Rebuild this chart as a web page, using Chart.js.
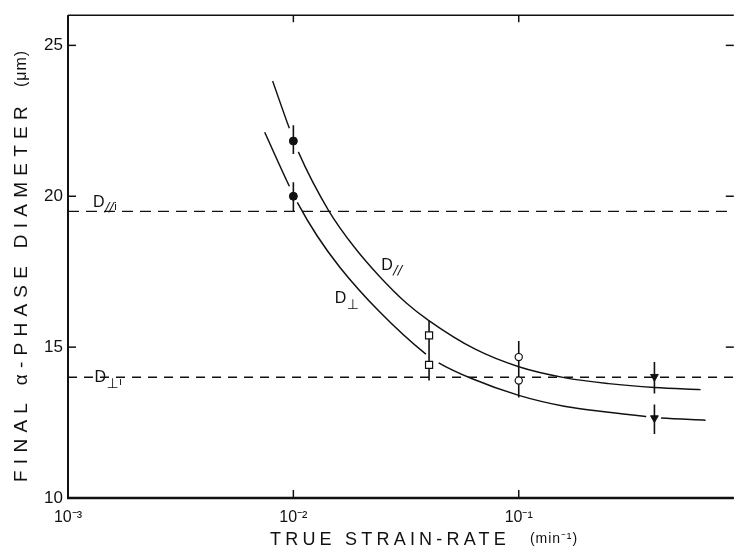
<!DOCTYPE html>
<html><head><meta charset="utf-8">
<script src="https://cdn.jsdelivr.net/npm/chart.js@4.4.1/dist/chart.umd.min.js"></script>
<style>html,body{margin:0;padding:0;background:#fff;overflow:hidden}canvas{display:block}</style>
</head><body>
<canvas id="c" width="740" height="549"></canvas>
<script>
// ---- data ----
const xTicks = [0.001, 0.01, 0.1];
const xTickLabels = ['10\u207B\u00B3', '10\u207B\u00B2', '10\u207B\u00B9'];
const yTicks = [10, 15, 20, 25];
const xRange = [0.001, 0.9];
const yRange = [10, 26];

// D-parallel curve
const parX = [0.00809, 0.00960, 0.01052, 0.01438, 0.01870, 0.02407, 0.03162, 0.03991, 0.06412, 0.1, 0.1591, 0.2506, 0.3991, 0.6412];
const parY = [23.82, 22.25, 21.47, 19.51, 18.30, 17.35, 16.47, 15.88, 14.93, 14.35, 13.99, 13.79, 13.66, 13.59];
const parGaps = [[0.00960, 0.01052]];
// D-perpendicular curve
const perX = [0.007461, 0.00960, 0.01041, 0.01274, 0.01607, 0.02407, 0.03871, 0.04413, 0.0622, 0.1, 0.1591, 0.2506, 0.368, 0.4281, 0.6745];
const perY = [22.12, 20.33, 19.80, 18.69, 17.65, 16.18, 14.77, 14.48, 13.95, 13.40, 13.04, 12.84, 12.70, 12.65, 12.58];
const perGaps = [[0.00960, 0.01041], [0.03871, 0.04413], [0.368, 0.4281]];

// initial diameters (dashed)
const initPar = 19.5;
const initPer = 14.0;

// measured points
const dotX = [0.01, 0.01],   dotY = [21.83, 20.0];
const sqX  = [0.04, 0.04],   sqY  = [15.39, 14.41];
const ocX  = [0.1, 0.1],     ocY  = [14.67, 13.89];
const triX = [0.4, 0.4],     triY = [14.02, 12.65];

// error bars
const errX    = [0.01, 0.01, 0.04, 0.1, 0.4, 0.4];
const errLow  = [21.40, 19.50, 13.89, 13.33, 13.46, 12.12];
const errHigh = [22.35, 20.46, 15.88, 15.20, 14.51, 13.10];

// text
const xTitle = 'TRUE STRAIN-RATE';
const xUnit = '(min\u207B\u00B9)';
const yTitle = 'FINAL \u03B1-PHASE DIAMETER';
const yUnit = '(\u03BCm)';
const curveLabelMain = ['D', 'D', 'D', 'D'];
const curveLabelSub  = ['//', '\u22A5', '//', '\u22A5'];
const curveLabelIdx  = ['', '', 'i', 'i'];
const curveLabelX    = [0.02455, 0.01527, 0.00129, 0.00131];
const curveLabelY    = [17.55, 16.47, 19.64, 13.86];

// ---- build ----
const INK = '#111';
const pts = (xs, ys) => xs.map((x, i) => ({x, y: ys[i]}));
const gapSeg = (xs, gaps) => (c) => {
  const a = xs[c.p0DataIndex], b = xs[c.p1DataIndex];
  return gaps.some(g => a >= g[0] - 1e-9 && b <= g[1] + 1e-9) ? 'rgba(0,0,0,0)' : INK;
};
const errData = [];
errX.forEach((x, i) => { errData.push({x, y: errLow[i]}, {x, y: errHigh[i]}, {x, y: null}); });

const datasets = [
  {data: pts(dotX, dotY), pointStyle: 'circle', pointRadius: 4, backgroundColor: INK, borderColor: INK, borderWidth: 1, showLine: false},
  {data: pts(sqX, sqY), pointStyle: 'rect', pointRadius: 5, backgroundColor: '#fff', borderColor: INK, borderWidth: 1.2, showLine: false},
  {data: pts(ocX, ocY), pointStyle: 'circle', pointRadius: 3.6, backgroundColor: '#fff', borderColor: INK, borderWidth: 1.2, showLine: false},
  {data: pts(triX, triY), pointStyle: 'triangle', rotation: 180, pointRadius: 4.5, backgroundColor: INK, borderColor: INK, borderWidth: 1, showLine: false},
  {data: errData, showLine: true, spanGaps: false, pointRadius: 0, borderColor: INK, borderWidth: 1.6, tension: 0},
  {data: pts(parX, parY), showLine: true, pointRadius: 0, borderColor: INK, borderWidth: 1.4, cubicInterpolationMode: 'monotone', segment: {borderColor: gapSeg(parX, parGaps)}},
  {data: pts(perX, perY), showLine: true, pointRadius: 0, borderColor: INK, borderWidth: 1.5, cubicInterpolationMode: 'monotone', segment: {borderColor: gapSeg(perX, perGaps)}},
  {data: [{x: xRange[0], y: initPar}, {x: xRange[1], y: initPar}], showLine: true, pointRadius: 0, borderColor: INK, borderWidth: 1.4, borderDash: [11, 7]},
  {data: [{x: xRange[0], y: initPer}, {x: xRange[1], y: initPer}], showLine: true, pointRadius: 0, borderColor: INK, borderWidth: 1.4, borderDash: [9, 7]}
];

function spacedText(ctx, text, x, y, target) {
  ctx.letterSpacing = '0px';
  const w = ctx.measureText(text).width;
  const n = [...text].length;
  const sp = n > 1 ? (target - w) / n : 0;
  ctx.letterSpacing = sp + 'px';
  ctx.fillText(text, x, y);
  ctx.letterSpacing = '0px';
}

const decor = {
  id: 'decor',
  afterDraw(chart) {
    const {ctx, chartArea: a, scales: {x, y}} = chart;
    const line = (x1, y1, x2, y2) => { ctx.beginPath(); ctx.moveTo(x1, y1); ctx.lineTo(x2, y2); ctx.stroke(); };
    ctx.save();
    ctx.strokeStyle = INK; ctx.fillStyle = INK;
    ctx.lineWidth = 2; line(a.left, a.top, a.left, a.bottom + 1);
    ctx.lineWidth = 2.5; line(a.left - 1, a.bottom, a.right, a.bottom);
    ctx.lineWidth = 1.5; line(a.left, a.top, a.right, a.top);
    ctx.lineWidth = 1.5;
    yTicks.forEach(v => { const py = y.getPixelForValue(v); line(a.left, py, a.left + 8, py); line(a.right, py, a.right - 8, py); });
    xTicks.forEach(v => { const px = x.getPixelForValue(v); line(px, a.bottom, px, a.bottom - 8); line(px, a.top, px, a.top + 7); });

    // curve labels
    ctx.textBaseline = 'alphabetic'; ctx.textAlign = 'left';
    curveLabelMain.forEach((m, i) => {
      const px = x.getPixelForValue(curveLabelX[i]);
      const py = y.getPixelForValue(curveLabelY[i]);
      ctx.font = '16px "Liberation Sans", Arial, sans-serif';
      ctx.fillText(m, px, py);
      let cx = px + ctx.measureText(m).width + 0.5;
      const perp = curveLabelSub[i] === '\u22A5';
      ctx.font = (perp ? '14px' : 'italic 13px') + ' "DejaVu Sans", sans-serif';
      ctx.fillText(curveLabelSub[i], cx, py + (perp ? 6 : 4));
      cx += ctx.measureText(curveLabelSub[i]).width + 0.5;
      if (curveLabelIdx[i]) {
        ctx.font = '11px "Liberation Sans", Arial, sans-serif';
        ctx.fillText(curveLabelIdx[i], cx, py + 3);
      }
    });

    // axis titles
    ctx.textBaseline = 'middle';
    ctx.font = '18px "Liberation Sans", Arial, sans-serif';
    spacedText(ctx, xTitle, 270, 540, 240);
    ctx.font = '14px "Liberation Sans", Arial, sans-serif';
    spacedText(ctx, xUnit, 530, 539, 48);

    ctx.translate(22, 482);
    ctx.rotate(-Math.PI / 2);
    ctx.font = '19px "Liberation Sans", Arial, sans-serif';
    spacedText(ctx, yTitle, 0, 0, 382);
    ctx.font = '16px "Liberation Sans", Arial, sans-serif';
    spacedText(ctx, yUnit, 395, 0, 37);
    ctx.restore();
  }
};

new Chart(document.getElementById('c'), {
  type: 'scatter',
  data: {datasets},
  options: {
    responsive: false,
    animation: false,
    events: [],
    layout: {padding: {top: 10, right: 0, left: 0, bottom: 0}},
    plugins: {legend: {display: false}, tooltip: {enabled: false}},
    scales: {
      x: {
        type: 'logarithmic', min: xRange[0], max: xRange[1],
        afterBuildTicks: s => { s.ticks = xTicks.map(v => ({value: v})); },
        afterFit: s => { s.height = 51; },
        grid: {display: false, drawTicks: false},
        border: {display: false},
        ticks: {callback: (v, i) => xTickLabels[i], color: INK, padding: 10, maxRotation: 0, autoSkip: false,
                font: {size: 16, family: '"Liberation Sans", Arial, sans-serif'}}
      },
      y: {
        type: 'linear', min: yRange[0], max: yRange[1],
        afterBuildTicks: s => { s.ticks = yTicks.map(v => ({value: v})); },
        afterFit: s => { s.width = 68; },
        grid: {display: false, drawTicks: false},
        border: {display: false},
        ticks: {color: INK, padding: 5, font: {size: 17, family: '"Liberation Sans", Arial, sans-serif'}}
      }
    }
  },
  plugins: [decor]
});
</script>
</body></html>
